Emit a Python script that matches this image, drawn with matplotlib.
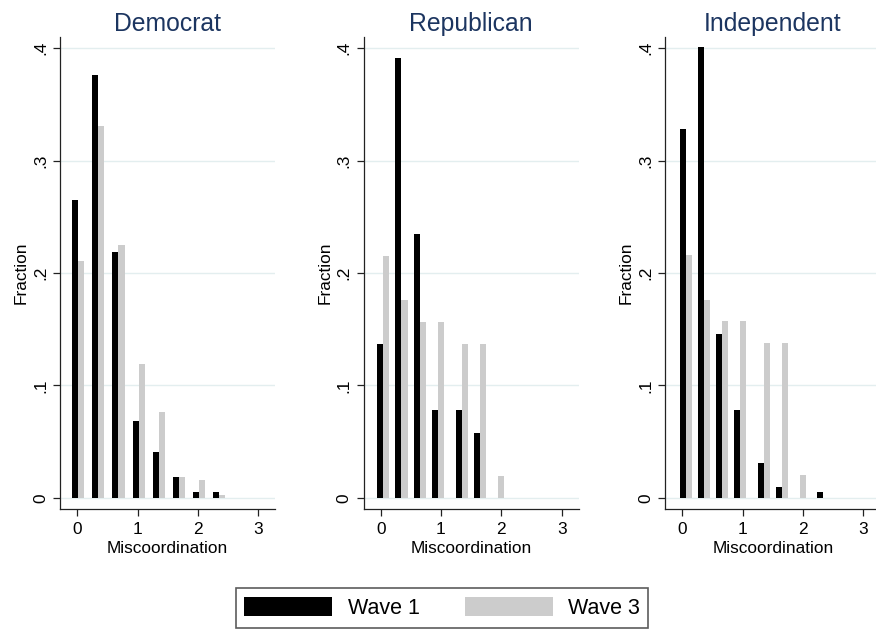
import numpy as np
import matplotlib
matplotlib.use("Agg")
import matplotlib.pyplot as plt

plt.rcParams["font.family"] = ["Liberation Sans", "DejaVu Sans"]

# Bar positions (x) and heights for each party panel
panels = ["Democrat", "Republican", "Independent"]

dem_x = [-0.033, 0.30, 0.633, 0.967, 1.30, 1.633, 1.967, 2.30]
dem_w1 = [0.265, 0.376, 0.219, 0.068, 0.041, 0.019, 0.005, 0.005]
dem_w3 = [0.211, 0.331, 0.225, 0.119, 0.076, 0.019, 0.016, 0.003]

rep_x = [-0.005, 0.295, 0.595, 0.895, 1.30, 1.60, 1.90]
rep_w1 = [0.137, 0.391, 0.235, 0.078, 0.078, 0.058, 0.0]
rep_w3 = [0.215, 0.176, 0.156, 0.156, 0.137, 0.137, 0.0197]

ind_x = [0.01, 0.31, 0.61, 0.91, 1.30, 1.60, 1.90, 2.29]
ind_w1 = [0.328, 0.401, 0.146, 0.078, 0.031, 0.010, 0.0, 0.005]
ind_w3 = [0.216, 0.176, 0.157, 0.157, 0.138, 0.138, 0.020, 0.0]

xs = [dem_x, rep_x, ind_x]
wave1 = [dem_w1, rep_w1, ind_w1]
wave3 = [dem_w3, rep_w3, ind_w3]

xticks = [0, 1, 2, 3]
yticks = [0, 0.1, 0.2, 0.3, 0.4]
ytick_labels = ["0", ".1", ".2", ".3", ".4"]

W, H = 876, 631
fig = plt.figure(figsize=(W / 100, H / 100), dpi=100)

lefts = [60.4, 363.8, 665.4]
ax_w = 214.7
ax_top, ax_bot = 37, 509
grid_c = "#e3eeef"
gray_c = "#cccccc"
title_c = "#1c3560"

bars = None
for i, name in enumerate(panels):
    ax = fig.add_axes([lefts[i] / W, (H - ax_bot) / H, ax_w / W, (ax_bot - ax_top) / H])
    x = np.array(xs[i])
    for yv in yticks:
        ax.axhline(yv, color=grid_c, lw=1, zorder=0)
    b1 = ax.bar(x, wave1[i], width=0.1, color="black", zorder=2, label="Wave 1")
    b3 = ax.bar(x + 0.1, wave3[i], width=0.1, color=gray_c, zorder=2, label="Wave 3")
    if bars is None:
        bars = (b1, b3)
    ax.set_xlim(-0.28, 3.28)
    ax.set_ylim(-0.0098, 0.4098)
    ax.set_xticks(xticks)
    ax.set_yticks(yticks)
    ax.set_yticklabels(ytick_labels, rotation=90, va="center")
    ax.tick_params(axis="both", direction="out", length=5, width=0.9,
                   labelsize=12.4, pad=4, color="#222222")
    for s in ["top", "right"]:
        ax.spines[s].set_visible(False)
    for s in ["left", "bottom"]:
        ax.spines[s].set_linewidth(0.9)
        ax.spines[s].set_color("#222222")
    ax.set_xlabel("Miscoordination", fontsize=12.4, labelpad=3)
    ax.set_ylabel("Fraction", fontsize=12.4, labelpad=3)
    ax.set_title(name, fontsize=17.8, color=title_c, pad=4)

leg = fig.legend(bars, ["Wave 1", "Wave 3"], ncol=2, loc="center",
                 bbox_to_anchor=(442 / W, (H - 608) / H), fontsize=15.5,
                 frameon=True, fancybox=False, edgecolor="#333333",
                 handlelength=4.1, handleheight=1.0, handletextpad=0.7,
                 columnspacing=2.1, borderpad=0.4)
leg.get_frame().set_linewidth(1.2)

fig.savefig("out.png", dpi=100, facecolor="white")
